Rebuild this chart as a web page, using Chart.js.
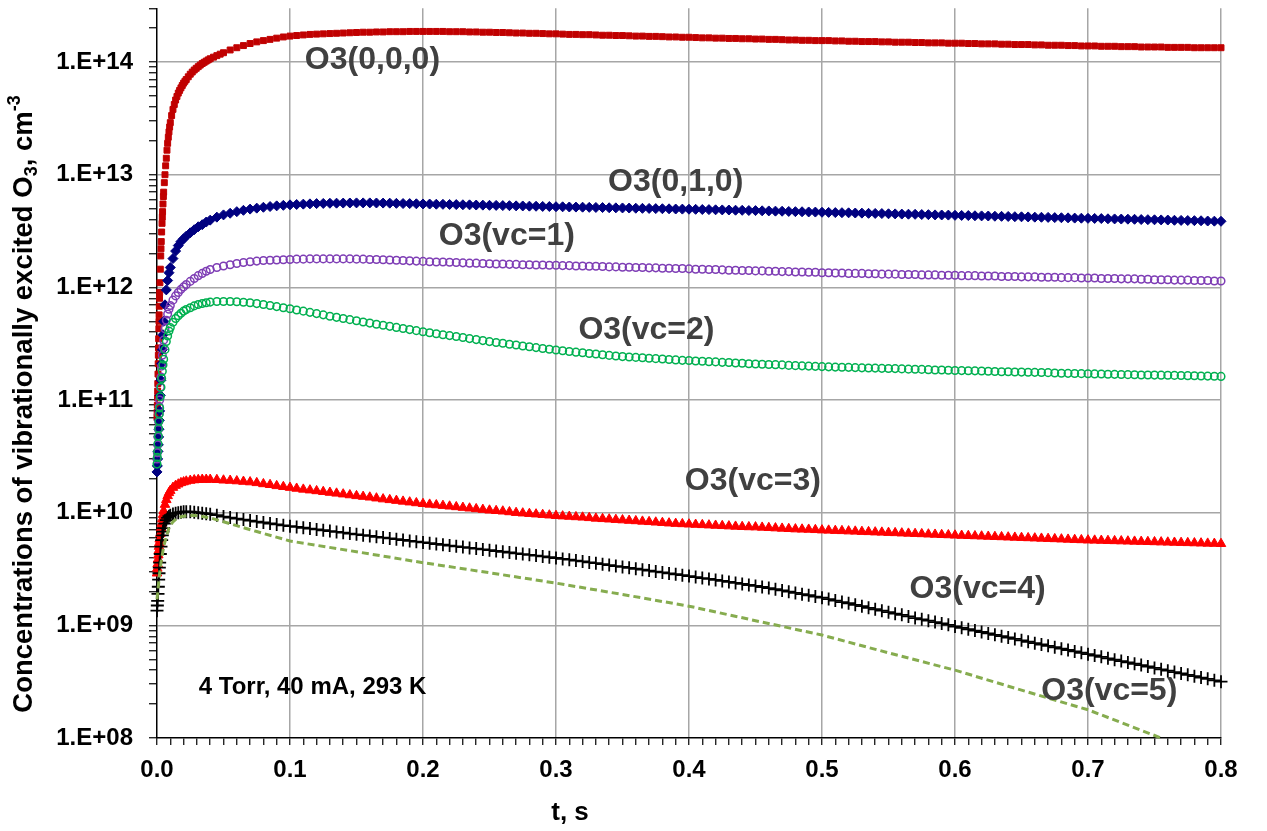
<!DOCTYPE html>
<html>
<head>
<meta charset="utf-8">
<title>Vibrationally excited O3</title>
<script src="https://cdn.jsdelivr.net/npm/chart.js@4.4.1/dist/chart.umd.min.js"></script>
<style>
    html, body { margin: 0; padding: 0; background: #fff; }
    #wrap { width: 1267px; height: 831px; }
</style>
</head>
<body>
<div id="wrap"><canvas id="o3Chart" width="1267" height="831"></canvas></div>
<script>
// Time points, s (shared by the marker series)
const timeS = [
    0, 0.00025, 0.0005, 0.00075, 0.001, 0.00125, 0.0015, 0.00175, 0.002, 0.0025, 0.003, 0.0035, 0.004, 0.0045, 0.005,
    0.006, 0.007, 0.008, 0.009, 0.010, 0.012, 0.014, 0.016, 0.018, 0.020, 0.022, 0.025, 0.028, 0.031, 0.034, 0.037, 0.040, 0.045,
    0.050, 0.055, 0.060, 0.065, 0.070, 0.075, 0.080, 0.085, 0.090, 0.095,
    0.100, 0.105, 0.110, 0.115, 0.120, 0.125, 0.130, 0.135, 0.140, 0.145,
    0.150, 0.155, 0.160, 0.165, 0.170, 0.175, 0.180, 0.185, 0.190, 0.195,
    0.200, 0.205, 0.210, 0.215, 0.220, 0.225, 0.230, 0.235, 0.240, 0.245,
    0.250, 0.255, 0.260, 0.265, 0.270, 0.275, 0.280, 0.285, 0.290, 0.295,
    0.300, 0.305, 0.310, 0.315, 0.320, 0.325, 0.330, 0.335, 0.340, 0.345,
    0.350, 0.355, 0.360, 0.365, 0.370, 0.375, 0.380, 0.385, 0.390, 0.395,
    0.400, 0.405, 0.410, 0.415, 0.420, 0.425, 0.430, 0.435, 0.440, 0.445,
    0.450, 0.455, 0.460, 0.465, 0.470, 0.475, 0.480, 0.485, 0.490, 0.495,
    0.500, 0.505, 0.510, 0.515, 0.520, 0.525, 0.530, 0.535, 0.540, 0.545,
    0.550, 0.555, 0.560, 0.565, 0.570, 0.575, 0.580, 0.585, 0.590, 0.595,
    0.600, 0.605, 0.610, 0.615, 0.620, 0.625, 0.630, 0.635, 0.640, 0.645,
    0.650, 0.655, 0.660, 0.665, 0.670, 0.675, 0.680, 0.685, 0.690, 0.695,
    0.700, 0.705, 0.710, 0.715, 0.720, 0.725, 0.730, 0.735, 0.740, 0.745,
    0.750, 0.755, 0.760, 0.765, 0.770, 0.775, 0.780, 0.785, 0.790, 0.795,
    0.800
];

// O3(0,0,0)
const o3_000 = [
    7.0e10, 9.0e10, 1.2e11, 1.7e11, 2.5e11, 3.5e11, 5.0e11, 6.8e11, 9.0e11, 1.45e12, 2.2e12, 3.1e12, 4.2e12, 5.5e12, 7.0e12,
    1.0e13, 1.4e13, 1.9e13, 2.4e13, 2.9e13, 3.8e13, 4.6e13, 5.3e13, 5.9e13, 6.5e13, 7.0e13, 7.8e13, 8.5e13, 9.1e13, 9.7e13, 1.02e14, 1.07e14, 1.14e14,
    1.21e14, 1.28e14, 1.34e14, 1.40e14, 1.46e14, 1.51e14, 1.55e14, 1.59e14, 1.63e14, 1.67e14,
    1.70e14, 1.72e14, 1.74e14, 1.76e14, 1.77e14, 1.78e14, 1.79e14, 1.80e14, 1.81e14, 1.82e14,
    1.83e14, 1.84e14, 1.84e14, 1.85e14, 1.85e14, 1.86e14, 1.86e14, 1.86e14, 1.87e14, 1.87e14,
    1.87e14, 1.87e14, 1.87e14, 1.87e14, 1.86e14, 1.86e14, 1.86e14, 1.85e14, 1.85e14, 1.84e14,
    1.84e14, 1.83e14, 1.83e14, 1.82e14, 1.81e14, 1.81e14, 1.80e14, 1.80e14, 1.79e14, 1.78e14,
    1.78e14, 1.77e14, 1.76e14, 1.76e14, 1.75e14, 1.75e14, 1.74e14, 1.73e14, 1.73e14, 1.72e14,
    1.72e14, 1.71e14, 1.70e14, 1.70e14, 1.69e14, 1.69e14, 1.68e14, 1.67e14, 1.67e14, 1.66e14,
    1.66e14, 1.65e14, 1.64e14, 1.64e14, 1.63e14, 1.63e14, 1.62e14, 1.62e14, 1.61e14, 1.61e14,
    1.60e14, 1.60e14, 1.59e14, 1.59e14, 1.58e14, 1.57e14, 1.57e14, 1.56e14, 1.56e14, 1.55e14,
    1.55e14, 1.55e14, 1.54e14, 1.54e14, 1.53e14, 1.53e14, 1.52e14, 1.52e14, 1.52e14, 1.51e14,
    1.51e14, 1.50e14, 1.50e14, 1.50e14, 1.49e14, 1.49e14, 1.48e14, 1.48e14, 1.48e14, 1.47e14,
    1.47e14, 1.47e14, 1.46e14, 1.46e14, 1.45e14, 1.45e14, 1.45e14, 1.44e14, 1.44e14, 1.43e14,
    1.43e14, 1.43e14, 1.42e14, 1.42e14, 1.41e14, 1.41e14, 1.41e14, 1.40e14, 1.40e14, 1.39e14,
    1.39e14, 1.39e14, 1.38e14, 1.38e14, 1.38e14, 1.37e14, 1.37e14, 1.37e14, 1.36e14, 1.36e14,
    1.36e14, 1.36e14, 1.35e14, 1.35e14, 1.35e14, 1.35e14, 1.34e14, 1.34e14, 1.34e14, 1.34e14,
    1.34e14
];

// O3(0,0,0) - extra samples on the steep initial rise
const time000Rise = [
    0.0001, 0.0004, 0.0006, 0.0009, 0.0011, 0.0014, 0.0016, 0.0019, 0.0022, 0.0028, 0.0032, 0.0038, 0.0042, 0.0048, 0.0055,
    0.0065, 0.0075, 0.0085, 0.0095, 0.011, 0.013, 0.015, 0.017, 0.019, 0.021, 0.0235, 0.0265, 0.0295, 0.0325, 0.0355, 0.0385,
    0.0425, 0.0475
];
const o3_000Rise = [
    7.8e10, 1.05e11, 1.4e11, 2.1e11, 2.9e11, 4.3e11, 5.7e11, 8.0e11, 1.1e12, 1.9e12, 2.55e12, 3.7e12, 4.7e12, 6.4e12, 8.5e12,
    1.2e13, 1.65e13, 2.15e13, 2.65e13, 3.35e13, 4.2e13, 4.95e13, 5.6e13, 6.2e13, 6.75e13, 7.4e13, 8.15e13, 8.8e13, 9.4e13, 9.95e13, 1.045e14,
    1.105e14, 1.175e14
];

// O3(0,1,0)
const o3_010 = [
    2.3e10, 2.6e10, 3.0e10, 3.5e10, 4.0e10, 4.7e10, 5.5e10, 6.6e10, 8.0e10, 1.1e11, 1.5e11, 2.1e11, 2.8e11, 3.8e11, 5.0e11,
    7.0e11, 9.5e11, 1.15e12, 1.35e12, 1.5e12, 1.8e12, 2.1e12, 2.35e12, 2.55e12, 2.7e12, 2.85e12, 3.05e12, 3.25e12, 3.45e12, 3.6e12, 3.8e12, 3.95e12, 4.2e12,
    4.40e12, 4.55e12, 4.70e12, 4.83e12, 4.95e12, 5.05e12, 5.14e12, 5.22e12, 5.29e12, 5.35e12,
    5.40e12, 5.44e12, 5.48e12, 5.51e12, 5.54e12, 5.56e12, 5.58e12, 5.59e12, 5.60e12, 5.61e12,
    5.62e12, 5.62e12, 5.62e12, 5.61e12, 5.60e12, 5.59e12, 5.57e12, 5.55e12, 5.54e12, 5.52e12,
    5.50e12, 5.49e12, 5.47e12, 5.46e12, 5.44e12, 5.43e12, 5.41e12, 5.40e12, 5.38e12, 5.37e12,
    5.35e12, 5.34e12, 5.32e12, 5.31e12, 5.29e12, 5.28e12, 5.26e12, 5.25e12, 5.23e12, 5.22e12,
    5.20e12, 5.19e12, 5.17e12, 5.16e12, 5.15e12, 5.13e12, 5.12e12, 5.11e12, 5.09e12, 5.08e12,
    5.07e12, 5.06e12, 5.04e12, 5.03e12, 5.02e12, 5.00e12, 4.99e12, 4.98e12, 4.96e12, 4.95e12,
    4.94e12, 4.93e12, 4.91e12, 4.90e12, 4.88e12, 4.87e12, 4.86e12, 4.84e12, 4.83e12, 4.81e12,
    4.80e12, 4.78e12, 4.77e12, 4.75e12, 4.74e12, 4.72e12, 4.70e12, 4.69e12, 4.67e12, 4.66e12,
    4.64e12, 4.63e12, 4.61e12, 4.60e12, 4.59e12, 4.57e12, 4.56e12, 4.54e12, 4.53e12, 4.52e12,
    4.50e12, 4.49e12, 4.47e12, 4.46e12, 4.45e12, 4.43e12, 4.42e12, 4.40e12, 4.39e12, 4.38e12,
    4.36e12, 4.35e12, 4.34e12, 4.32e12, 4.31e12, 4.30e12, 4.28e12, 4.27e12, 4.26e12, 4.24e12,
    4.23e12, 4.22e12, 4.20e12, 4.19e12, 4.18e12, 4.16e12, 4.15e12, 4.14e12, 4.12e12, 4.11e12,
    4.10e12, 4.09e12, 4.08e12, 4.06e12, 4.05e12, 4.04e12, 4.03e12, 4.02e12, 4.00e12, 3.99e12,
    3.98e12, 3.97e12, 3.96e12, 3.94e12, 3.93e12, 3.92e12, 3.91e12, 3.90e12, 3.88e12, 3.87e12,
    3.86e12
];

// O3(vc=1)
const o3_vc1 = [
    3.0e10, 3.4e10, 4.0e10, 4.7e10, 5.5e10, 6.4e10, 7.5e10, 8.7e10, 1.0e11, 1.3e11, 1.6e11, 2.0e11, 2.5e11, 2.95e11, 3.4e11,
    4.3e11, 5.1e11, 5.8e11, 6.4e11, 6.9e11, 7.7e11, 8.4e11, 9.0e11, 9.6e11, 1.01e12, 1.06e12, 1.13e12, 1.20e12, 1.27e12, 1.33e12, 1.39e12, 1.44e12, 1.50e12,
    1.55e12, 1.59e12, 1.63e12, 1.66e12, 1.69e12, 1.71e12, 1.73e12, 1.74e12, 1.75e12, 1.76e12,
    1.77e12, 1.78e12, 1.78e12, 1.79e12, 1.79e12, 1.79e12, 1.79e12, 1.79e12, 1.79e12, 1.79e12,
    1.78e12, 1.78e12, 1.77e12, 1.77e12, 1.76e12, 1.75e12, 1.74e12, 1.73e12, 1.72e12, 1.71e12,
    1.70e12, 1.69e12, 1.68e12, 1.68e12, 1.67e12, 1.66e12, 1.65e12, 1.64e12, 1.64e12, 1.63e12,
    1.62e12, 1.61e12, 1.61e12, 1.60e12, 1.60e12, 1.59e12, 1.59e12, 1.58e12, 1.58e12, 1.57e12,
    1.57e12, 1.56e12, 1.56e12, 1.55e12, 1.55e12, 1.54e12, 1.54e12, 1.53e12, 1.52e12, 1.52e12,
    1.51e12, 1.51e12, 1.50e12, 1.50e12, 1.49e12, 1.49e12, 1.48e12, 1.48e12, 1.47e12, 1.47e12,
    1.46e12, 1.45e12, 1.45e12, 1.44e12, 1.44e12, 1.43e12, 1.42e12, 1.42e12, 1.41e12, 1.41e12,
    1.40e12, 1.40e12, 1.39e12, 1.39e12, 1.38e12, 1.38e12, 1.37e12, 1.37e12, 1.36e12, 1.36e12,
    1.35e12, 1.35e12, 1.34e12, 1.34e12, 1.33e12, 1.33e12, 1.33e12, 1.32e12, 1.32e12, 1.31e12,
    1.31e12, 1.31e12, 1.30e12, 1.30e12, 1.30e12, 1.29e12, 1.29e12, 1.29e12, 1.28e12, 1.28e12,
    1.28e12, 1.27e12, 1.27e12, 1.27e12, 1.26e12, 1.26e12, 1.26e12, 1.25e12, 1.25e12, 1.25e12,
    1.24e12, 1.24e12, 1.24e12, 1.23e12, 1.23e12, 1.23e12, 1.22e12, 1.22e12, 1.22e12, 1.21e12,
    1.21e12, 1.21e12, 1.20e12, 1.20e12, 1.20e12, 1.19e12, 1.19e12, 1.19e12, 1.18e12, 1.18e12,
    1.17e12, 1.17e12, 1.17e12, 1.16e12, 1.16e12, 1.16e12, 1.15e12, 1.15e12, 1.15e12, 1.14e12,
    1.14e12
];

// O3(vc=2)
const o3_vc2 = [
    2.7e10, 3.1e10, 3.5e10, 4.1e10, 4.8e10, 5.6e10, 6.5e10, 7.5e10, 8.5e10, 1.07e11, 1.3e11, 1.55e11, 1.8e11, 2.05e11, 2.3e11,
    2.8e11, 3.3e11, 3.7e11, 4.1e11, 4.4e11, 4.9e11, 5.3e11, 5.6e11, 5.9e11, 6.15e11, 6.35e11, 6.6e11, 6.85e11, 7.05e11, 7.2e11, 7.3e11, 7.4e11, 7.5e11,
    7.50e11, 7.48e11, 7.45e11, 7.38e11, 7.30e11, 7.18e11, 7.05e11, 6.90e11, 6.75e11, 6.60e11,
    6.45e11, 6.30e11, 6.15e11, 6.00e11, 5.85e11, 5.70e11, 5.55e11, 5.42e11, 5.30e11, 5.17e11,
    5.05e11, 4.93e11, 4.82e11, 4.71e11, 4.61e11, 4.51e11, 4.41e11, 4.31e11, 4.22e11, 4.13e11,
    4.04e11, 3.96e11, 3.88e11, 3.80e11, 3.73e11, 3.66e11, 3.59e11, 3.51e11, 3.44e11, 3.37e11,
    3.30e11, 3.24e11, 3.19e11, 3.13e11, 3.08e11, 3.02e11, 2.97e11, 2.92e11, 2.87e11, 2.82e11,
    2.78e11, 2.74e11, 2.70e11, 2.66e11, 2.63e11, 2.59e11, 2.56e11, 2.52e11, 2.49e11, 2.46e11,
    2.43e11, 2.41e11, 2.39e11, 2.37e11, 2.35e11, 2.33e11, 2.31e11, 2.29e11, 2.27e11, 2.25e11,
    2.24e11, 2.22e11, 2.21e11, 2.19e11, 2.18e11, 2.16e11, 2.15e11, 2.13e11, 2.12e11, 2.10e11,
    2.09e11, 2.08e11, 2.07e11, 2.06e11, 2.05e11, 2.03e11, 2.02e11, 2.01e11, 2.00e11, 1.99e11,
    1.98e11, 1.97e11, 1.96e11, 1.955e11, 1.95e11, 1.94e11, 1.93e11, 1.925e11, 1.92e11, 1.91e11,
    1.905e11, 1.90e11, 1.89e11, 1.88e11, 1.875e11, 1.87e11, 1.86e11, 1.85e11, 1.845e11, 1.84e11,
    1.83e11, 1.825e11, 1.82e11, 1.815e11, 1.81e11, 1.80e11, 1.79e11, 1.785e11, 1.78e11, 1.775e11,
    1.77e11, 1.765e11, 1.76e11, 1.755e11, 1.75e11, 1.74e11, 1.73e11, 1.725e11, 1.72e11, 1.715e11,
    1.71e11, 1.705e11, 1.70e11, 1.695e11, 1.69e11, 1.685e11, 1.68e11, 1.675e11, 1.67e11, 1.667e11,
    1.665e11, 1.662e11, 1.66e11, 1.655e11, 1.65e11, 1.645e11, 1.64e11, 1.635e11, 1.63e11, 1.625e11,
    1.62e11
];

// O3(vc=3)
const o3_vc3 = [
    2.9e9, 3.2e9, 3.5e9, 3.85e9, 4.2e9, 4.6e9, 5.0e9, 5.4e9, 5.8e9, 6.5e9, 7.3e9, 8.0e9, 8.8e9, 9.6e9, 1.04e10,
    1.18e10, 1.30e10, 1.41e10, 1.50e10, 1.57e10, 1.67e10, 1.74e10, 1.79e10, 1.84e10, 1.87e10, 1.90e10, 1.93e10, 1.95e10, 1.96e10, 1.97e10, 1.97e10, 1.97e10, 1.96e10,
    1.94e10, 1.93e10, 1.91e10, 1.89e10, 1.87e10, 1.84e10, 1.80e10, 1.77e10, 1.73e10, 1.70e10,
    1.67e10, 1.64e10, 1.61e10, 1.585e10, 1.56e10, 1.535e10, 1.51e10, 1.485e10, 1.46e10, 1.435e10,
    1.41e10, 1.39e10, 1.37e10, 1.345e10, 1.32e10, 1.30e10, 1.28e10, 1.26e10, 1.24e10, 1.22e10,
    1.20e10, 1.185e10, 1.17e10, 1.155e10, 1.14e10, 1.125e10, 1.11e10, 1.095e10, 1.08e10, 1.065e10,
    1.05e10, 1.04e10, 1.03e10, 1.015e10, 1.00e10, 9.9e9, 9.8e9, 9.7e9, 9.6e9, 9.5e9,
    9.4e9, 9.32e9, 9.25e9, 9.17e9, 9.1e9, 9.0e9, 8.9e9, 8.82e9, 8.75e9, 8.67e9,
    8.6e9, 8.52e9, 8.45e9, 8.37e9, 8.3e9, 8.22e9, 8.15e9, 8.07e9, 8.0e9, 7.95e9,
    7.9e9, 7.85e9, 7.8e9, 7.75e9, 7.7e9, 7.65e9, 7.6e9, 7.55e9, 7.5e9, 7.47e9,
    7.45e9, 7.4e9, 7.35e9, 7.3e9, 7.25e9, 7.2e9, 7.15e9, 7.12e9, 7.1e9, 7.05e9,
    7.0e9, 6.97e9, 6.93e9, 6.9e9, 6.86e9, 6.83e9, 6.79e9, 6.76e9, 6.72e9, 6.69e9,
    6.65e9, 6.62e9, 6.58e9, 6.55e9, 6.51e9, 6.48e9, 6.44e9, 6.41e9, 6.37e9, 6.34e9,
    6.3e9, 6.27e9, 6.24e9, 6.21e9, 6.18e9, 6.15e9, 6.12e9, 6.09e9, 6.06e9, 6.03e9,
    6.0e9, 5.97e9, 5.94e9, 5.91e9, 5.88e9, 5.85e9, 5.82e9, 5.79e9, 5.76e9, 5.73e9,
    5.7e9, 5.68e9, 5.66e9, 5.64e9, 5.62e9, 5.6e9, 5.58e9, 5.56e9, 5.54e9, 5.52e9,
    5.5e9, 5.48e9, 5.46e9, 5.44e9, 5.42e9, 5.4e9, 5.38e9, 5.36e9, 5.34e9, 5.32e9,
    5.3e9
];

// O3(vc=4)
const o3_vc4 = [
    1.35e9, 1.5e9, 1.65e9, 1.9e9, 2.2e9, 2.55e9, 2.9e9, 3.25e9, 3.6e9, 4.3e9, 5.0e9, 5.7e9, 6.3e9, 6.8e9, 7.3e9,
    8.0e9, 8.6e9, 9.0e9, 9.3e9, 9.5e9, 9.75e9, 9.9e9, 1.0e10, 1.01e10, 1.02e10, 1.02e10, 1.02e10, 1.01e10, 1.0e10, 9.9e9, 9.8e9, 9.7e9, 9.5e9,
    9.23e9, 9.04e9, 8.85e9, 8.68e9, 8.51e9, 8.34e9, 8.18e9, 8.02e9, 7.87e9, 7.73e9,
    7.59e9, 7.47e9, 7.35e9, 7.22e9, 7.10e9, 6.98e9, 6.87e9, 6.75e9, 6.64e9, 6.53e9,
    6.43e9, 6.32e9, 6.22e9, 6.11e9, 6.01e9, 5.91e9, 5.82e9, 5.72e9, 5.62e9, 5.53e9,
    5.45e9, 5.36e9, 5.27e9, 5.19e9, 5.11e9, 5.03e9, 4.95e9, 4.87e9, 4.80e9, 4.72e9,
    4.65e9, 4.57e9, 4.50e9, 4.43e9, 4.36e9, 4.29e9, 4.23e9, 4.16e9, 4.09e9, 4.02e9,
    3.96e9, 3.89e9, 3.83e9, 3.76e9, 3.69e9, 3.62e9, 3.56e9, 3.49e9, 3.43e9, 3.36e9,
    3.30e9, 3.24e9, 3.18e9, 3.12e9, 3.06e9, 3.00e9, 2.95e9, 2.89e9, 2.84e9, 2.79e9,
    2.74e9, 2.68e9, 2.63e9, 2.58e9, 2.53e9, 2.48e9, 2.43e9, 2.38e9, 2.33e9, 2.28e9,
    2.24e9, 2.19e9, 2.14e9, 2.09e9, 2.04e9, 1.99e9, 1.94e9, 1.89e9, 1.85e9, 1.80e9,
    1.76e9, 1.71e9, 1.66e9, 1.61e9, 1.57e9, 1.52e9, 1.48e9, 1.43e9, 1.39e9, 1.35e9,
    1.31e9, 1.27e9, 1.24e9, 1.20e9, 1.16e9, 1.13e9, 1.10e9, 1.07e9, 1.04e9, 1.01e9,
    9.77e8, 9.50e8, 9.23e8, 8.98e8, 8.73e8, 8.48e8, 8.24e8, 8.02e8, 7.80e8, 7.58e8,
    7.36e8, 7.15e8, 6.95e8, 6.76e8, 6.58e8, 6.39e8, 6.21e8, 6.04e8, 5.87e8, 5.71e8,
    5.55e8, 5.40e8, 5.25e8, 5.10e8, 4.95e8, 4.82e8, 4.69e8, 4.56e8, 4.44e8, 4.31e8,
    4.19e8, 4.07e8, 3.96e8, 3.85e8, 3.74e8, 3.64e8, 3.54e8, 3.44e8, 3.35e8, 3.25e8,
    3.16e8
];

// O3(vc=5) - drawn as a dashed trace, has its own time points
const timeVc5 = [0, 0.001, 0.002, 0.003, 0.005, 0.007, 0.009, 0.012, 0.015, 0.018, 0.022, 0.027, 0.033, 0.040, 0.050,
    0.075, 0.100, 0.150, 0.200, 0.250, 0.300, 0.350, 0.400, 0.450, 0.500, 0.550, 0.600, 0.650, 0.700, 0.755];
const o3_vc5 = [1.7e9, 2.2e9, 2.9e9, 3.6e9, 5.0e9, 6.1e9, 7.3e9, 8.3e9, 8.9e9, 9.2e9, 9.4e9, 9.5e9, 9.3e9, 9.0e9, 8.3e9,
    6.8e9, 5.6e9, 4.5e9, 3.6e9, 2.93e9, 2.37e9, 1.88e9, 1.48e9, 1.1e9, 8.2e8, 5.7e8, 4.0e8, 2.66e8, 1.78e8, 1.0e8];

// Axis ticks
const xMajorTicks = [0, 0.1, 0.2, 0.3, 0.4, 0.5, 0.6, 0.7, 0.8];
const xTickLabels = ['0.0', '0.1', '0.2', '0.3', '0.4', '0.5', '0.6', '0.7', '0.8'];
const yMajorTicks = [1e8, 1e9, 1e10, 1e11, 1e12, 1e13, 1e14];
const yTickLabels = ['1.E+08', '1.E+09', '1.E+10', '1.E+11', '1.E+12', '1.E+13', '1.E+14'];
const yMin = 1e8;
const yMax = 3e14;

// Text placed inside the plot (anchored at t, concentration)
const plotNotes = [
    { text: 'O3(0,0,0)', t: 0.162, v: 1.04e14, size: 32, color: '#404040' },
    { text: 'O3(0,1,0)', t: 0.390, v: 8.5e12, size: 32, color: '#404040' },
    { text: 'O3(vc=1)', t: 0.263, v: 2.85e12, size: 32, color: '#404040' },
    { text: 'O3(vc=2)', t: 0.368, v: 4.2e11, size: 32, color: '#404040' },
    { text: 'O3(vc=3)', t: 0.448, v: 1.9e10, size: 32, color: '#404040' },
    { text: 'O3(vc=4)', t: 0.617, v: 2.08e9, size: 32, color: '#404040' },
    { text: 'O3(vc=5)', t: 0.716, v: 2.6e8, size: 32, color: '#404040' },
    { text: '4 Torr, 40 mA, 293 K', t: 0.117, v: 2.83e8, size: 24, color: '#000000' }
];

const FONT = '"Liberation Sans", Arial, Helvetica, sans-serif';

document.addEventListener('DOMContentLoaded', function() {
    initializeO3Chart();
});

// Pair time points with values
function toPoints(times, values) {
    return values.map((v, i) => ({ x: times[i], y: v }));
}

function isXMajor(value) {
    return xMajorTicks.findIndex(m => Math.abs(m - value) < 1e-9);
}

// Draws notes and both axis titles
const textPlugin = {
    id: 'o3Texts',
    afterDraw(chart) {
        const ctx = chart.ctx;
        const xs = chart.scales.x;
        const ys = chart.scales.y;
        ctx.save();
        ctx.textAlign = 'center';
        ctx.textBaseline = 'middle';
        plotNotes.forEach(n => {
            ctx.font = 'bold ' + n.size + 'px ' + FONT;
            ctx.fillStyle = n.color;
            ctx.fillText(n.text, xs.getPixelForValue(n.t), ys.getPixelForValue(n.v));
        });

        // x title
        ctx.font = 'bold 26px ' + FONT;
        ctx.fillStyle = '#000';
        ctx.fillText('t, s', 570, 813);

        // y title, rotated, with subscript and superscript
        const parts = [
            { s: 'Concentrations of vibrationally excited O', size: 27.5, dy: 0 },
            { s: '3', size: 18, dy: 5 },
            { s: ', cm', size: 27.5, dy: 0 },
            { s: '-3', size: 18, dy: -12 }
        ];
        let total = 0;
        parts.forEach(p => {
            ctx.font = 'bold ' + p.size + 'px ' + FONT;
            p.w = ctx.measureText(p.s).width;
            total += p.w;
        });
        ctx.translate(22, 404);
        ctx.rotate(-Math.PI / 2);
        ctx.textAlign = 'left';
        ctx.textBaseline = 'alphabetic';
        let x = -total / 2;
        parts.forEach(p => {
            ctx.font = 'bold ' + p.size + 'px ' + FONT;
            ctx.fillText(p.s, x, 10 + p.dy);
            x += p.w;
        });
        ctx.restore();
    }
};

function initializeO3Chart() {
    const ctx = document.getElementById('o3Chart').getContext('2d');
    const redSquare = {
        pointStyle: 'rect',
        pointRadius: 4.2,
        backgroundColor: '#C00000',
        borderColor: '#C00000',
        borderWidth: 1,
        order: 7
    };
    new Chart(ctx, {
        type: 'scatter',
        data: {
            datasets: [
                Object.assign({ label: 'O3(0,0,0)', data: toPoints(timeS, o3_000) }, redSquare),
                Object.assign({ label: 'O3(0,0,0) rise', data: toPoints(time000Rise, o3_000Rise) }, redSquare),
                {
                    label: 'O3(0,1,0)',
                    data: toPoints(timeS, o3_010),
                    pointStyle: 'rectRot',
                    pointRadius: 5,
                    backgroundColor: '#000080',
                    borderColor: '#000080',
                    borderWidth: 1,
                    order: 6
                },
                {
                    label: 'O3(vc=1)',
                    data: toPoints(timeS, o3_vc1),
                    pointStyle: 'circle',
                    pointRadius: 3.8,
                    backgroundColor: 'rgba(255,255,255,0)',
                    borderColor: '#7E3DB5',
                    borderWidth: 1.5,
                    order: 5
                },
                {
                    label: 'O3(vc=2)',
                    data: toPoints(timeS, o3_vc2),
                    pointStyle: 'circle',
                    pointRadius: 3.8,
                    backgroundColor: 'rgba(255,255,255,0)',
                    borderColor: '#00B050',
                    borderWidth: 1.5,
                    order: 4
                },
                {
                    label: 'O3(vc=3)',
                    data: toPoints(timeS, o3_vc3),
                    pointStyle: 'triangle',
                    pointRadius: 5.5,
                    backgroundColor: '#FF0000',
                    borderColor: '#FF0000',
                    borderWidth: 1,
                    order: 3
                },
                {
                    label: 'O3(vc=4)',
                    data: toPoints(timeS, o3_vc4),
                    pointStyle: 'cross',
                    pointRadius: 6.5,
                    backgroundColor: '#000',
                    borderColor: '#000',
                    borderWidth: 1.8,
                    order: 2
                },
                {
                    label: 'O3(vc=5)',
                    data: toPoints(timeVc5, o3_vc5),
                    showLine: true,
                    pointRadius: 0,
                    borderColor: '#86AC4F',
                    borderWidth: 3,
                    borderDash: [7, 4],
                    order: 1
                }
            ]
        },
        options: {
            responsive: false,
            animation: false,
            devicePixelRatio: 1,
            layout: { padding: { top: 5, right: 46, left: 0, bottom: 0 } },
            elements: { point: { hoverRadius: 4 } },
            datasets: { scatter: { clip: false } },
            plugins: {
                legend: { display: false },
                tooltip: { enabled: false }
            },
            scales: {
                x: {
                    type: 'linear',
                    min: 0,
                    max: 0.8,
                    afterBuildTicks: function(scale) {
                        const ticks = [];
                        for (let i = 0; i <= 80; i++) ticks.push({ value: i / 100 });
                        scale.ticks = ticks;
                    },
                    afterFit: function(scale) {
                        scale.height = 93;
                        scale.paddingLeft = 0;
                        scale.paddingRight = 0;
                    },
                    ticks: {
                        autoSkip: false,
                        maxRotation: 0,
                        padding: 11,
                        color: '#000',
                        font: { family: FONT, weight: 'bold', size: 24 },
                        callback: function(value) {
                            const i = isXMajor(value);
                            return i >= 0 ? xTickLabels[i] : '';
                        }
                    },
                    grid: {
                        color: function(c) {
                            if (!c.tick) return 'rgba(0,0,0,0)';
                            return isXMajor(c.tick.value) > 0 ? '#A6A6A6' : 'rgba(0,0,0,0)';
                        },
                        lineWidth: 1.5,
                        tickColor: '#000',
                        tickWidth: 1.2,
                        tickLength: 7
                    },
                    border: { color: '#000', width: 1.5 }
                },
                y: {
                    type: 'logarithmic',
                    min: yMin,
                    max: yMax,
                    afterBuildTicks: function(scale) {
                        const ticks = [];
                        yMajorTicks.forEach(d => {
                            for (let m = 1; m <= 9; m++) {
                                if (m * d <= yMax) ticks.push({ value: m * d });
                            }
                        });
                        scale.ticks = ticks;
                    },
                    afterFit: function(scale) {
                        scale.width = 157;
                        scale.paddingTop = 0;
                        scale.paddingBottom = 0;
                    },
                    ticks: {
                        autoSkip: false,
                        padding: 16,
                        color: '#000',
                        font: { family: FONT, weight: 'bold', size: 24 },
                        callback: function(value) {
                            const i = yMajorTicks.indexOf(value);
                            return i >= 0 ? yTickLabels[i] : '';
                        }
                    },
                    grid: {
                        color: function(c) {
                            if (!c.tick) return 'rgba(0,0,0,0)';
                            const i = yMajorTicks.indexOf(c.tick.value);
                            return i > 0 ? '#A6A6A6' : 'rgba(0,0,0,0)';
                        },
                        lineWidth: 1.5,
                        tickColor: '#000',
                        tickWidth: 1.2,
                        tickLength: 8
                    },
                    border: { color: '#000', width: 1.5 }
                }
            }
        },
        plugins: [textPlugin]
    });
}
</script>
</body>
</html>
